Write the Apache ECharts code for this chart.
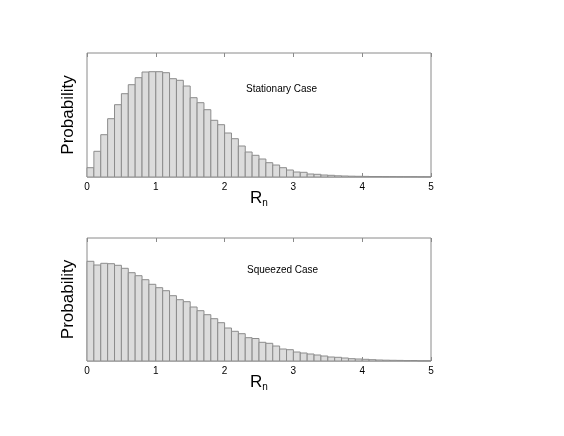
<!DOCTYPE html>
<html lang="en">
<head>
    <meta charset="utf-8">
    <title>Rn histograms</title>
    <script src="https://cdn.jsdelivr.net/npm/echarts@6.0.0/dist/echarts.min.js"></script>
    <style>
        html, body { margin: 0; padding: 0; background: #fff; }
        #main { width: 564px; height: 436px; }
    </style>
</head>
<body>
    <div id="main"></div>
<script>
    // bin left edges (width 0.1)
    var binStart = [0, 0.1, 0.2, 0.3, 0.4, 0.5, 0.6, 0.7, 0.8, 0.9,
        1, 1.1, 1.2, 1.3, 1.4, 1.5, 1.6, 1.7, 1.8, 1.9,
        2, 2.1, 2.2, 2.3, 2.4, 2.5, 2.6, 2.7, 2.8, 2.9,
        3, 3.1, 3.2, 3.3, 3.4, 3.5, 3.6, 3.7, 3.8, 3.9,
        4, 4.1, 4.2, 4.3, 4.4, 4.5, 4.6, 4.7, 4.8, 4.9];
    var binWidth = 0.1;

    // 稳态
    var stationary = [9.3, 25.7, 42.3, 58.3, 72.3, 83.3, 92.3, 99.3, 105, 105.3,
        105.3, 104.3, 98.3, 96.7, 91, 79.3, 74.3, 67.3, 56.7, 52.3,
        44, 38.3, 31, 25, 21.7, 18, 14.3, 12, 9.3, 7,
        5, 4.7, 3, 2.7, 2, 1.7, 1.2, 1, 0.8, 0.7,
        0.6, 0.5, 0.5, 0.4, 0.4, 0.3, 0.3, 0.3, 0.2, 0.2];
    // 压缩态
    var squeezed = [99.7, 96, 97.7, 97.3, 95.7, 92.7, 88.3, 85.3, 81.3, 76.7,
        73.3, 70.3, 65.3, 61.3, 59.3, 54, 50.3, 46.3, 42.3, 38.3,
        33, 29.7, 27.3, 23.3, 22.5, 18.7, 17.7, 15, 12, 11.3,
        9, 8, 7, 6, 5, 4, 3.7, 3, 2.3, 2,
        1.7, 1.3, 1, 0.8, 0.7, 0.6, 0.4, 0.5, 0.2, 0.2];
    var labels = ['Stationary Case', 'Squeezed Case'];

    var font = '"Liberation Sans", Arial, Helvetica, sans-serif';
    var boxColor = '#8a8a8a';

    function histData(vals) {
        var d = [];
        for (var i = 0; i < vals.length; i++) {
            d.push([binStart[i], binStart[i] + binWidth, vals[i]]);
        }
        return d;
    }

    function renderBar(params, api) {
        var p0 = api.coord([api.value(0), api.value(2)]);
        var p1 = api.coord([api.value(1), 0]);
        return {
            type: 'rect',
            shape: { x: p0[0], y: p0[1], width: p1[0] - p0[0], height: p1[1] - p0[1] },
            style: { fill: '#dcdcdc', stroke: '#8c8c8c', lineWidth: 1 }
        };
    }

    function xAx(idx, pos) {
        var bottom = pos === 'bottom';
        return {
            type: 'value', gridIndex: idx, position: pos, min: 0, max: 5, interval: 1,
            axisLine: { show: false },
            axisTick: { show: true, inside: true, length: 4, lineStyle: { color: boxColor } },
            axisLabel: { show: bottom, color: '#000', fontSize: 10, fontFamily: font, margin: 5 },
            splitLine: { show: false },
            name: bottom ? '{r|R}{s|n}' : '',
            nameLocation: 'middle', nameGap: 11, nameMoveOverlap: false,
            nameTextStyle: {
                rich: {
                    r: { fontSize: 17, fontFamily: font, color: '#000', lineHeight: 20 },
                    s: { fontSize: 10, fontFamily: font, color: '#000', lineHeight: 20, verticalAlign: 'bottom', padding: [10, 0, 0, 0] }
                }
            }
        };
    }

    function yAx(idx, max) {
        return {
            type: 'value', gridIndex: idx, min: 0, max: max,
            axisLine: { show: false }, axisTick: { show: false }, axisLabel: { show: false },
            splitLine: { show: false },
            name: 'Probability', nameLocation: 'middle', nameRotate: 90, nameGap: 10,
            nameTextStyle: { fontSize: 17, fontFamily: font, color: '#000' }
        };
    }

    var myChart = echarts.init(document.getElementById('main'));
    var option = {
        animation: false,
        backgroundColor: '#fff',
        grid: [
            { left: 87, width: 344, top: 53, height: 124, show: true, borderColor: boxColor, borderWidth: 1, backgroundColor: 'transparent' },
            { left: 87, width: 344, top: 238, height: 123, show: true, borderColor: boxColor, borderWidth: 1, backgroundColor: 'transparent' }
        ],
        xAxis: [xAx(0, 'bottom'), xAx(0, 'top'), xAx(1, 'bottom'), xAx(1, 'top')],
        yAxis: [yAx(0, 124), yAx(1, 123)],
        graphic: [
            { type: 'text', left: 246, top: 84, style: { text: labels[0], fontSize: 10, fontFamily: font, fill: '#000' } },
            { type: 'text', left: 247, top: 265, style: { text: labels[1], fontSize: 10, fontFamily: font, fill: '#000' } }
        ],
        series: [
            { type: 'custom', xAxisIndex: 0, yAxisIndex: 0, data: histData(stationary), renderItem: renderBar, encode: { x: [0, 1], y: 2 } },
            { type: 'custom', xAxisIndex: 2, yAxisIndex: 1, data: histData(squeezed), renderItem: renderBar, encode: { x: [0, 1], y: 2 } }
        ]
    };
    myChart.setOption(option);
</script>
</body>
</html>
